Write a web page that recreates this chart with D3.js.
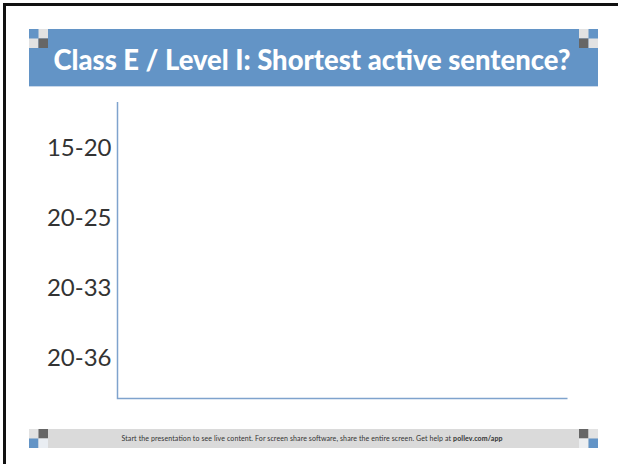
<!DOCTYPE html>
<meta charset="utf-8">
<head>
  <style>
  body{
    margin: 0;
    background-color: #fff;
  }
  .axis text{
    font-family: Lato, sans-serif;
    font-size: 24px;
    fill: #333;
  }
  .axis .domain{
    display: none;
  }
  .title{
    font-family: Lato, sans-serif;
    font-weight: 900;
    font-size: 28px;
    fill: #fff;
  }
  .footer{
    font-family: Lato, sans-serif;
    font-size: 7px;
    fill: #333;
  }
  </style>
</head>
<body>
<div id="graph"></div>

<script src="https://d3js.org/d3.v7.min.js"></script>
<script>

var title = "Class E / Level I: Shortest active sentence?";
var categories = ["15-20", "20-25", "20-33", "20-36"];
var values = [0, 0, 0, 0];   // no responses yet
var footerText = "Start the presentation to see live content. For screen share software, share the entire screen. Get help at ";
var footerLink = "pollev.com/app";

var W = 618, H = 464;
var blue = "#6394c6", dark = "#666", light = "#e2e2e2", bar = "#dadada";

var svg = d3.select("#graph").append("svg")
  .attr("width", W)
  .attr("height", H);

// outer frame (only top and left edges show)
svg.append("path")
  .attr("d", "M4.5," + H + "V4.5H" + W)
  .attr("fill", "none")
  .attr("stroke", "#111")
  .attr("stroke-width", 3);

// header band
svg.append("rect")
  .attr("x", 29).attr("y", 29)
  .attr("width", 569).attr("height", 57)
  .attr("fill", blue);
svg.append("line")
  .attr("x1", 29).attr("x2", 598)
  .attr("y1", 86.5).attr("y2", 86.5)
  .attr("stroke", "#c9d8ea");

function squares(x, y, cols){
  // 2x2 block of 9.5px squares, cols in reading order
  cols.forEach(function(c, i){
    if(!c) return;
    svg.append("rect")
      .attr("x", x + (i % 2) * 9.5)
      .attr("y", y + Math.floor(i / 2) * 9.5)
      .attr("width", 9.5).attr("height", 9.5)
      .attr("fill", c);
  });
}
squares(29, 29, [null, light, light, dark]);
squares(579, 29, [light, null, dark, light]);

svg.append("text")
  .attr("class", "title")
  .attr("x", 312).attr("y", 70)
  .attr("text-anchor", "middle")
  .attr("textLength", 517)
  .attr("lengthAdjust", "spacingAndGlyphs")
  .text(title);

// chart
var y = d3.scaleBand()
  .domain(categories)
  .range([113, 393]);

var x = d3.scaleLinear()
  .domain([0, d3.max(values) || 1])
  .range([117.5, 567.5]);

var Yaxis = d3.axisLeft(y).tickSize(0).tickPadding(6);

svg.append("g")
  .attr("class", "axis")
  .attr("transform", "translate(" + x(0) + ",0)")
  .call(Yaxis);

svg.append("path")
  .attr("d", "M" + x(0) + ",102V398.5H" + x.range()[1])
  .attr("fill", "none")
  .attr("stroke", "#7fa3cd")
  .attr("stroke-width", 1.5);

svg.selectAll(".bar")
  .data(values)
  .enter().append("rect")
  .attr("class", "bar")
  .attr("x", x(0))
  .attr("y", function(d, i){ return y(categories[i]) + 10; })
  .attr("height", y.bandwidth() - 20)
  .attr("width", function(d){ return x(d) - x(0); })
  .attr("fill", blue);

// footer
svg.append("rect")
  .attr("x", 29).attr("y", 429)
  .attr("width", 569).attr("height", 19)
  .attr("fill", bar);
squares(29, 429, [light, dark, blue, "#e9edf2"]);
squares(579, 429, [dark, light, "#eceef0", blue]);

var ft = svg.append("text")
  .attr("class", "footer")
  .attr("x", 312).attr("y", 440.5)
  .attr("text-anchor", "middle")
  .attr("textLength", 381)
  .attr("lengthAdjust", "spacing");
ft.append("tspan").text(footerText);
ft.append("tspan").attr("font-weight", "bold").text(footerLink);

</script>
</body>
</html>
